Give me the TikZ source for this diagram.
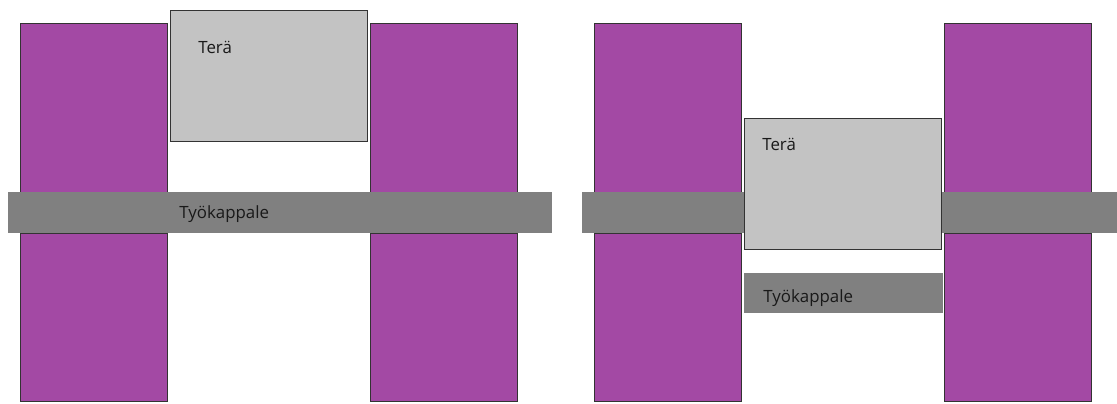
\documentclass[tikz,border=0pt]{standalone}
\usepackage{fontspec}
\setsansfont{Open Sans}
\definecolor{pillar}{HTML}{A349A4}
\definecolor{blade}{HTML}{C3C3C3}
\definecolor{piece}{HTML}{808080}
\definecolor{edge}{HTML}{333333}
\begin{document}
\begin{tikzpicture}[x=0.02cm,y=-0.02cm,
    label/.style={inner sep=0pt,anchor=base west,font=\sffamily\fontsize{9.6}{11}\selectfont,text=black!90}]
  \useasboundingbox (0,0) rectangle (1117,403);
  % pillars
  \foreach \x in {20,370,594,944}{
    \draw[edge,fill=pillar,line width=0.5pt] (\x,23) rectangle (\x+147,192);
    \draw[edge,fill=pillar,line width=0.5pt] (\x,233) rectangle (\x+147,401);
  }
  % left: blade above the workpiece
  \fill[piece] (8,192) rectangle (552,233);
  \draw[edge,fill=blade,line width=0.5pt] (170,10) rectangle (367,141);
  \node[label] (teraA) at (198,53) {Terä};
  \node[label] (kappaleA) at (179,218) {Työkappale};
  % right: blade through the workpiece
  \fill[piece] (582,192) rectangle (1117,233);
  \fill[piece] (744,273) rectangle (943,313);
  \draw[edge,fill=blade,line width=0.5pt] (744,118) rectangle (941,249);
  \node[label] (teraB) at (762,150) {Terä};
  \node[label] (kappaleB) at (763,302) {Työkappale};
\end{tikzpicture}
\end{document}
